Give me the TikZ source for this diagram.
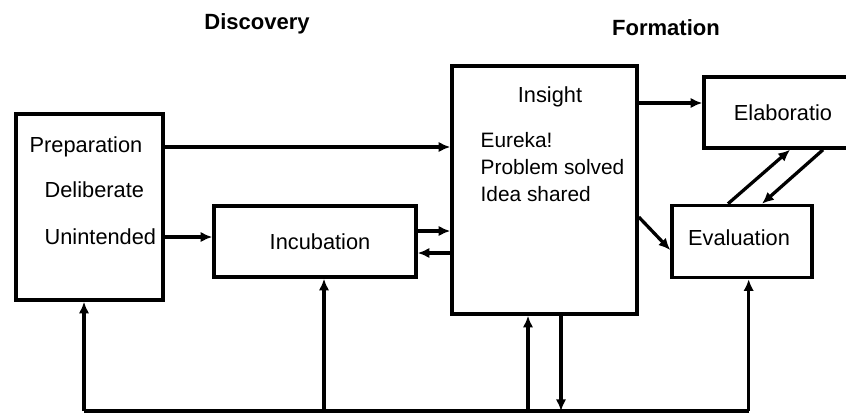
\documentclass[tikz,border=0pt]{standalone}
\usepackage{fontspec}
\setmainfont{Liberation Sans}
\usetikzlibrary{arrows.meta,calc,positioning}
\tikzset{stage/.style={draw, line width=3pt, fill=white, minimum width=#1}}
\tikzset{stagetext/.style={font=\fontsize{18.6}{23}\selectfont, inner sep=0pt}}
\tikzset{phase/.style={font=\fontsize{18.8}{22}\selectfont\bfseries, inner sep=0pt}}

\begin{document}
\begin{tikzpicture}[x=0.03cm, y=-0.03cm, line width=2.8pt]
	\useasboundingbox (0,0) rectangle (846,412);
	% Nodes
		\node (discovery) [phase] at (257,24) {Discovery};
		\node (formation) [phase] at (666,28) {Formation};
	
		\node (prep) [stage=4.41cm, minimum height=5.58cm] at (89.5,207) {};
		\node (incub) [stage=6.06cm, minimum height=2.13cm] at (315,241.5) {};
		\node (insight) [stage=5.55cm, minimum height=7.44cm] at (544.5,190) {};
		\node (elab) [stage=4.74cm, minimum height=2.13cm] at (783,112.5) {};
		\node (eval) [stage=4.2cm, minimum height=2.16cm] at (742,241.5) {};
		
		\node (preptitle) [stagetext] at (86,147) {Preparation};
		\node (delib) [stagetext, anchor=west] at (43,190) {Deliberate};
		\node (unint) [stagetext, anchor=west] at (43,237) {Unintended};
		\node (incubtext) [stagetext] at (320,242) {Incubation};
		\node (insighttitle) [stagetext] at (550,97) {Insight};
		\node (insightlist) [stagetext, font=\fontsize{17.8}{23}\selectfont, anchor=west, align=left] at (479,167) {Eureka!\\ Problem solved\\ Idea shared};
		\node (elabtext) [stagetext] at (783,113) {Elaboratio};
		\node (evaltext) [stagetext] at (739,238) {Evaluation};
		
		\coordinate (bus) at (0,411);
		
		% Connectors
		\begin{scope}[->]
		
		\draw [-{Latex[length=10pt, width=9pt]}] (prep.east |- preptitle) -- (insight.west |- preptitle);
		\draw [-{Latex[length=10pt, width=9pt]}] (prep.east |- unint) -- (incub.west |- unint);
		\draw [-{Latex[length=10pt, width=9pt]}] ([yshift=0.315cm]incub.east) -- ([yshift=0.315cm]insight.west |- incub.east);
		\draw [-{Latex[length=10pt, width=9pt]}] ([yshift=-0.345cm]insight.west |- incub.east) -- ([yshift=-0.345cm]incub.east);
		\draw [-{Latex[length=10pt, width=9pt]}] ([yshift=0.285cm]insight.east |- elab.west) -- ([yshift=0.285cm]elab.west);
		\draw [-{Latex[length=10pt, width=9pt]}] ([yshift=-0.81cm]insight.east) -- ([yshift=-0.255cm]eval.west);
		\draw [-{Latex[length=10pt, width=9pt]}] ([xshift=-0.42cm]eval.north) -- ([xshift=0.21cm]elab.south);
		\draw [-{Latex[length=10pt, width=9pt]}] ([xshift=1.2cm]elab.south) -- ([xshift=0.6cm]eval.north);
		
		\draw [-] ([xshift=-0.165cm]prep.south |- bus) -- ([xshift=0.2cm]eval.south |- bus);
		\draw [-{Latex[length=10pt, width=9pt]}] ([xshift=-0.165cm]prep.south |- bus) -- ([xshift=-0.165cm]prep.south);
		\draw [-{Latex[length=10pt, width=9pt]}] ([xshift=0.27cm]incub.south |- bus) -- ([xshift=0.27cm]incub.south);
		\draw [-{Latex[length=10pt, width=9pt]}] ([xshift=-0.495cm]insight.south |- bus) -- ([xshift=-0.495cm]insight.south);
		\draw [-{Latex[length=10pt, width=9pt]}] ([xshift=0.495cm]insight.south) -- ([xshift=0.495cm]insight.south |- bus);
		\draw [-{Latex[length=10pt, width=9pt]}] ([xshift=0.2cm]eval.south |- bus) -- ([xshift=0.2cm]eval.south);
	
	\end{scope}

\end{tikzpicture}
\end{document}
